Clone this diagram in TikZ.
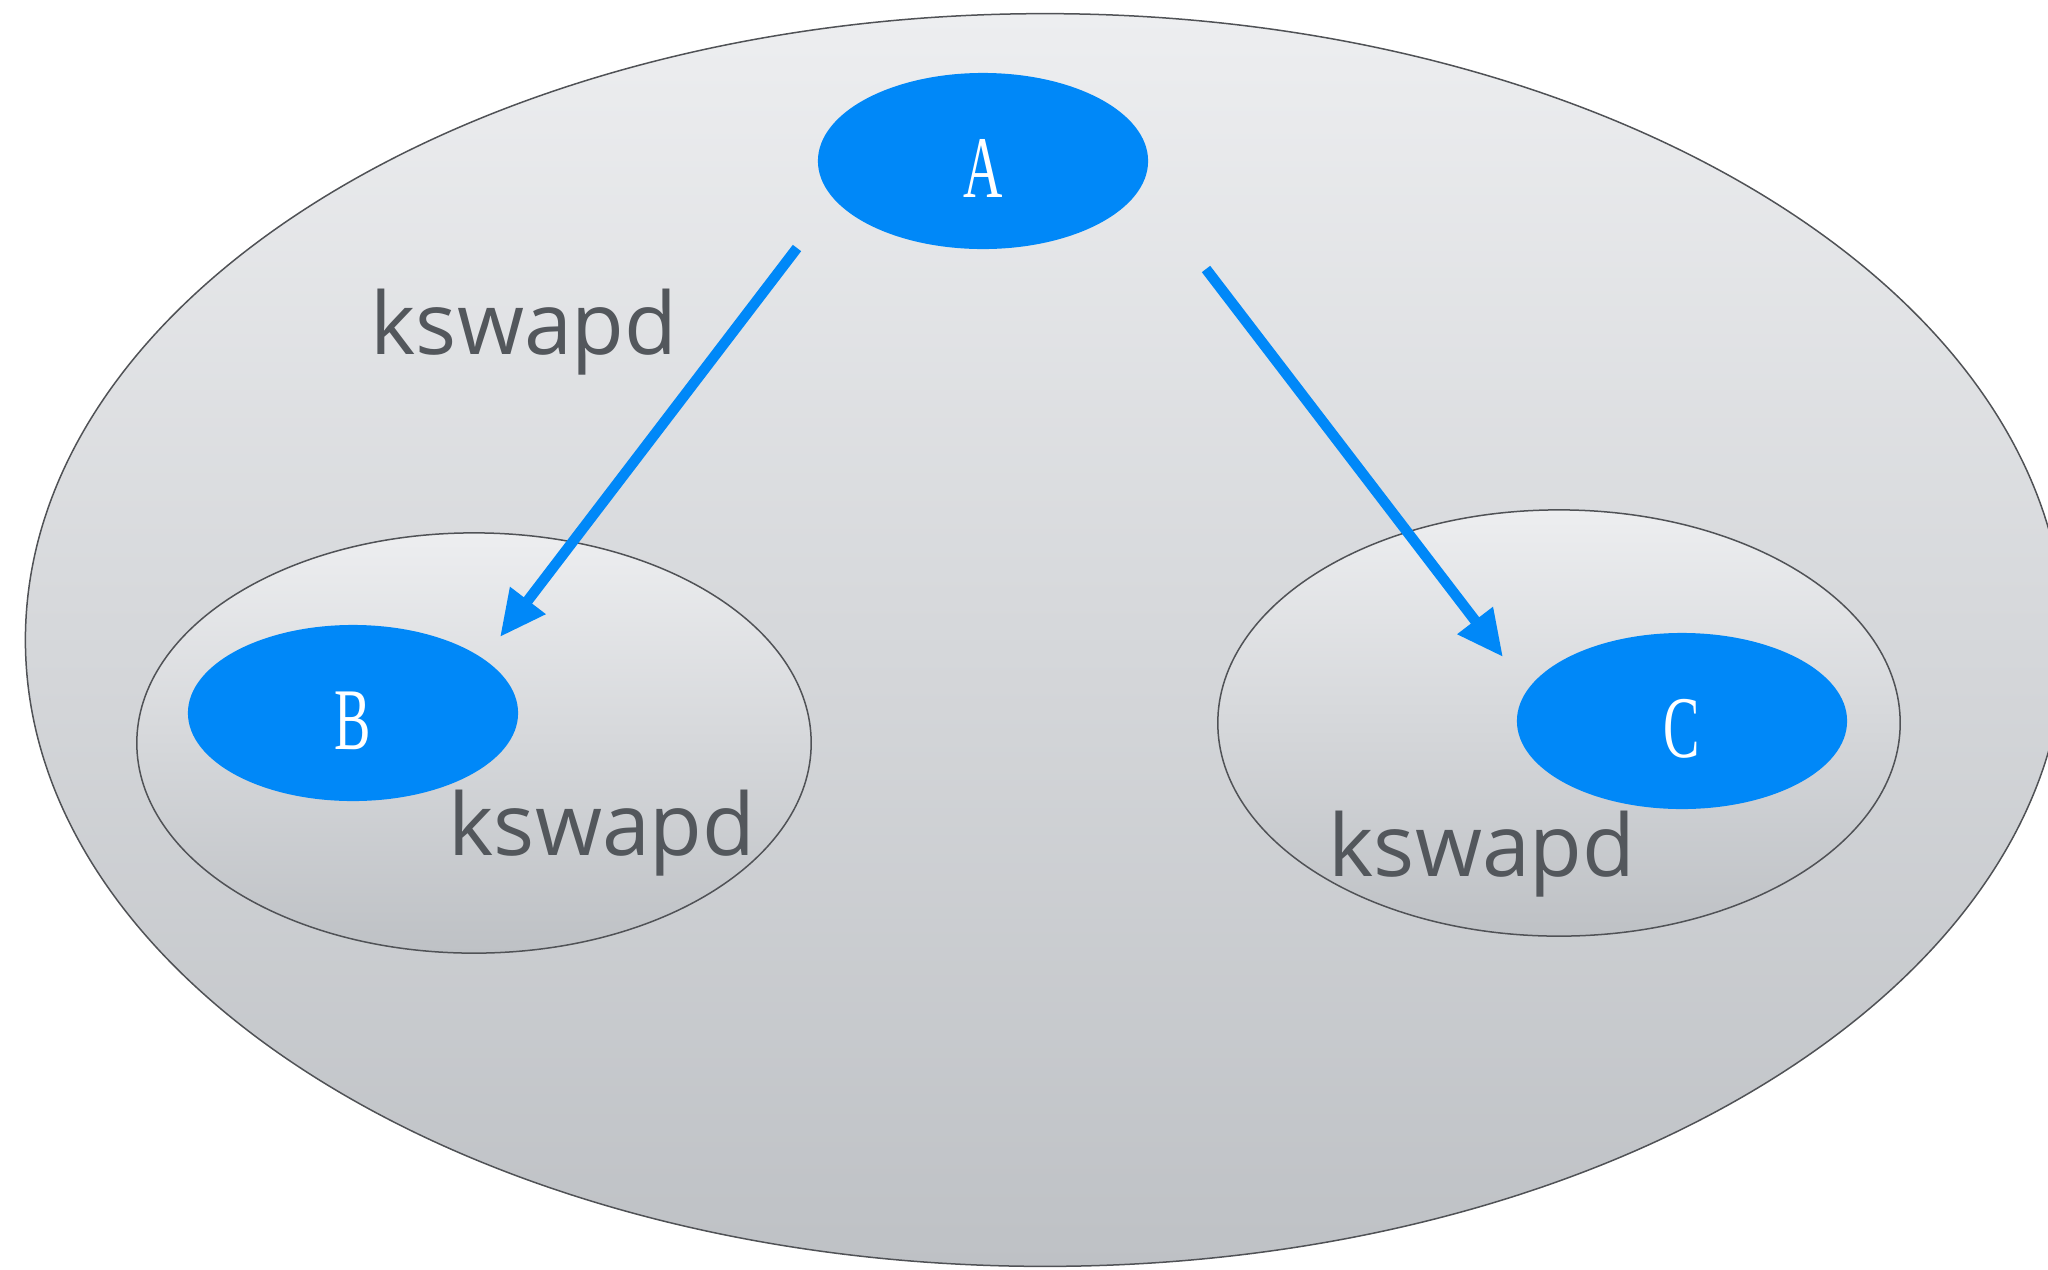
\documentclass[tikz,border=0pt]{standalone}
\usepackage{fontspec}
\setmainfont{Liberation Serif}
\newfontfamily\labelfont{Open Sans}
\newfontfamily\narrowserif[FakeStretch=0.62]{Liberation Serif}
\usetikzlibrary{arrows.meta,shapes.geometric}
\definecolor{nodeblue}{RGB}{0,136,248}
\definecolor{rimgray}{RGB}{80,82,86}
\definecolor{txtgray}{RGB}{83,87,92}
\definecolor{shadetop}{RGB}{237,238,240}
\definecolor{shadebot}{RGB}{190,193,197}
\tikzset{
  zone/.style={ellipse, draw=rimgray, line width=0.015cm,
    top color=shadetop, bottom color=shadebot, inner sep=0pt},
  proc/.style={ellipse, fill=nodeblue, minimum width=3.3cm, minimum height=1.76cm,
    inner sep=0pt, text=white, text height=0.73cm, text depth=0cm,
    font=\narrowserif\fontsize{25}{25}\selectfont},
  tag/.style={anchor=base west, inner sep=0pt, text=txtgray,
    font=\labelfont\fontsize{24.5}{25}\selectfont},
  wake/.style={draw=nodeblue, line width=0.105cm,
    -{Triangle[length=0.46cm, width=0.42cm]}}
}
\begin{document}
\begin{tikzpicture}[x=0.01cm, y=-0.01cm]
  \useasboundingbox (0,0) rectangle (2048,1269);
  \clip (0,0) rectangle (2048,1269);
  % outer region and the two inner regions
  \node[zone, minimum width=20.38cm, minimum height=12.52cm] (world) at (1045,640) {};
  \node[zone, minimum width=6.74cm, minimum height=4.2cm] (left) at (474,743) {};
  \node[zone, minimum width=6.82cm, minimum height=4.26cm] (right) at (1559,723) {};
  % processes
  \node[proc] (A) at (983,161) {A};
  \node[proc] (B) at (353,713) {B};
  \node[proc] (C) at (1682,721) {C};
  % wake-up arrows
  \coordinate (a1s) at (797,248);
  \coordinate (a1e) at (500,637);
  \coordinate (a2s) at (1206,269);
  \coordinate (a2e) at (1503,657);
  \draw[wake] (a1s) -- (a1e);
  \draw[wake] (a2s) -- (a2e);
  % labels
  \node[tag] (k1) at (370,354) {kswapd};
  \node[tag] (k2) at (448,855) {kswapd};
  \node[tag] (k3) at (1328,876) {kswapd};
\end{tikzpicture}
\end{document}
